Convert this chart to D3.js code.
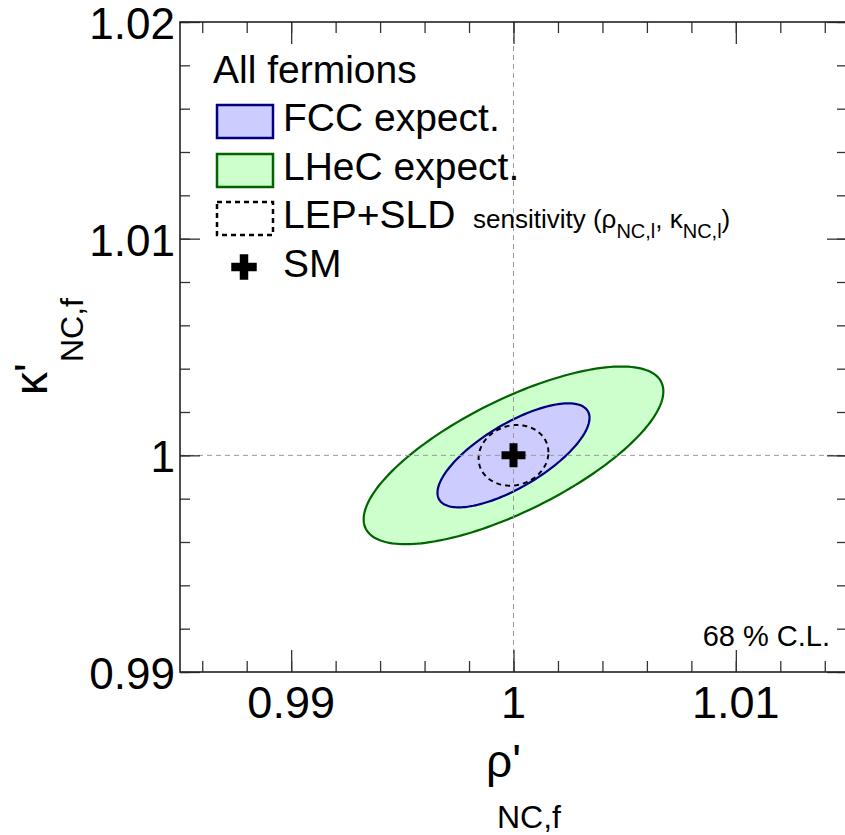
<!DOCTYPE html>
<html>
<head>
<meta charset="utf-8">
<script src="https://cdn.jsdelivr.net/npm/d3@7"></script>
<style>
  body { margin: 0; background: #fff; }
  text { font-family: "Liberation Sans", Arial, Helvetica, sans-serif; fill: #000; }
</style>
</head>
<body>
<script>
'use strict';

// axis ranges
const rhoRange = [0.985, 1.015];
const kappaRange = [0.99, 1.02];

// fitted contours (68% C.L.): widths and correlation
const contourNames = ["LHeC expect.", "FCC expect.", "LEP+SLD"];
const centerRho = [1.0, 1.0, 1.0];
const centerKappa = [1.0, 1.0, 1.0];
const sigmaRho = [0.00674, 0.00342, 0.00157];
const sigmaKappa = [0.0041, 0.0024, 0.0014];
const correlation = [0.72, 0.72, 0.1];
const contourFill = ["#ccffcc", "#ccccff", "none"];
const contourStroke = ["#006400", "#000080", "#000"];

// Standard Model point
const smRho = [1.0];
const smKappa = [1.0];

(function() {
  const W = 845, H = 835;
  const svg = d3.select('body').append('svg')
    .attr('width', W).attr('height', H);

  const x = d3.scaleLinear().domain(rhoRange).range([180, 847]);
  const y = d3.scaleLinear().domain(kappaRange).range([672, 22]);

  // contours
  const line = d3.line().x(d => x(d[0])).y(d => y(d[1])).curve(d3.curveLinearClosed);
  const angles = d3.range(0, 360, 2).map(a => a * Math.PI / 180);
  contourNames.forEach(function(name, i) {
    const s = Math.sqrt(1 - correlation[i] * correlation[i]);
    const pts = angles.map(t => [
      centerRho[i] + sigmaRho[i] * Math.cos(t),
      centerKappa[i] + sigmaKappa[i] * (correlation[i] * Math.cos(t) + s * Math.sin(t))
    ]);
    svg.append('path')
      .attr('d', line(pts))
      .attr('fill', contourFill[i])
      .attr('stroke', contourStroke[i])
      .attr('stroke-width', i == 2 ? 2 : 2.2)
      .attr('stroke-dasharray', i == 2 ? '5,4' : null);
  });

  // dashed reference lines at the SM values
  svg.append('line')
    .attr('x1', x(1)).attr('x2', x(1)).attr('y1', y.range()[0]).attr('y2', y.range()[1])
    .attr('stroke', '#999').attr('stroke-dasharray', '5,4').attr('stroke-width', 1);
  svg.append('line')
    .attr('x1', x.range()[0]).attr('x2', x.range()[1]).attr('y1', y(1)).attr('y2', y(1))
    .attr('stroke', '#999').attr('stroke-dasharray', '5,4').attr('stroke-width', 1);

  // SM cross
  const cross = d3.symbol().type(d3.symbolCross).size(320);
  svg.selectAll('.sm').data(smRho).enter().append('path')
    .attr('class', 'sm')
    .attr('transform', (d, i) => `translate(${x(d)},${y(smKappa[i])})`)
    .attr('d', cross).attr('fill', '#000');

  // frame + ticks (all pointing inward)
  const minorX = x.ticks(15), majorX = x.ticks(3);
  const minorY = y.ticks(15), majorY = y.ticks(3);
  const fmt = d3.format('~g');

  function tickAxis(axisFn, scale, vals, len, pos) {
    svg.append('g').attr('transform', pos)
      .call(axisFn(scale).tickValues(vals).tickSize(-len).tickFormat(''))
      .call(g => g.select('.domain').remove())
      .selectAll('line').attr('stroke', '#333').attr('stroke-width', 1.3);
  }
  tickAxis(d3.axisBottom, x, minorX, 11, `translate(0,${y.range()[0]})`);
  tickAxis(d3.axisBottom, x, majorX, 22, `translate(0,${y.range()[0]})`);
  tickAxis(d3.axisTop, x, minorX, 11, `translate(0,${y.range()[1]})`);
  tickAxis(d3.axisTop, x, majorX, 22, `translate(0,${y.range()[1]})`);
  tickAxis(d3.axisLeft, y, minorY, 10, `translate(${x.range()[0]},0)`);
  tickAxis(d3.axisLeft, y, majorY, 20, `translate(${x.range()[0]},0)`);
  tickAxis(d3.axisRight, y, minorY, 10, `translate(${x.range()[1]},0)`);
  tickAxis(d3.axisRight, y, majorY, 20, `translate(${x.range()[1]},0)`);

  svg.append('rect')
    .attr('x', x.range()[0]).attr('y', y.range()[1])
    .attr('width', x.range()[1] - x.range()[0]).attr('height', y.range()[0] - y.range()[1])
    .attr('fill', 'none').attr('stroke', '#222').attr('stroke-width', 1.6);

  // tick labels
  svg.selectAll('.xlab').data(majorX).enter().append('text')
    .attr('x', d => x(d)).attr('y', 718)
    .attr('text-anchor', 'middle').style('font-size', '45px')
    .text(fmt);
  svg.selectAll('.ylab').data(majorY).enter().append('text')
    .attr('x', 175).attr('y', d => y(d) + 17)
    .attr('text-anchor', 'end').style('font-size', '44px')
    .text(fmt);

  // axis titles
  const xt = svg.append('text').attr('x', 486).attr('y', 777).style('font-size', '46px');
  xt.append('tspan').text("ρ'");
  xt.append('tspan').attr('x', 497).attr('y', 828).style('font-size', '32px').text('NC,f');

  const yt = svg.append('text').attr('transform', 'translate(47,395)rotate(-90)')
    .style('font-size', '46px');
  yt.append('tspan').text("κ'");
  yt.append('tspan').attr('x', 33).attr('y', 36).style('font-size', '32px').text('NC,f');

  // legend
  svg.append('text').attr('x', 213).attr('y', 83).style('font-size', '39px').text('All fermions');
  const legY = [121, 170, 218];
  const legItems = [1, 0, 2];
  legItems.forEach(function(k, j) {
    svg.append('rect')
      .attr('x', 217).attr('y', legY[j] - 16).attr('width', 56).attr('height', 33)
      .attr('fill', k == 2 ? '#fff' : contourFill[k])
      .attr('stroke', contourStroke[k]).attr('stroke-width', 2.5)
      .attr('stroke-dasharray', k == 2 ? '5,4' : null);
    svg.append('text').attr('x', 283).attr('y', legY[j] + 10)
      .style('font-size', '39px').text(contourNames[k]);
  });
  const sens = svg.append('text').attr('x', 473).attr('y', 228).style('font-size', '26px');
  sens.append('tspan').text('sensitivity (ρ');
  sens.append('tspan').attr('dy', 10).style('font-size', '20px').text('NC,l');
  sens.append('tspan').attr('dy', -10).text(', κ');
  sens.append('tspan').attr('dy', 10).style('font-size', '20px').text('NC,l');
  sens.append('tspan').attr('dy', -10).text(')');

  svg.append('path')
    .attr('transform', 'translate(244,267)')
    .attr('d', d3.symbol().type(d3.symbolCross).size(360)).attr('fill', '#000');
  svg.append('text').attr('x', 283).attr('y', 277).style('font-size', '39px').text('SM');

  svg.append('text').attr('x', 830).attr('y', 646)
    .attr('text-anchor', 'end').style('font-size', '29px').text('68 % C.L.');
})();
</script>
</body>
</html>
